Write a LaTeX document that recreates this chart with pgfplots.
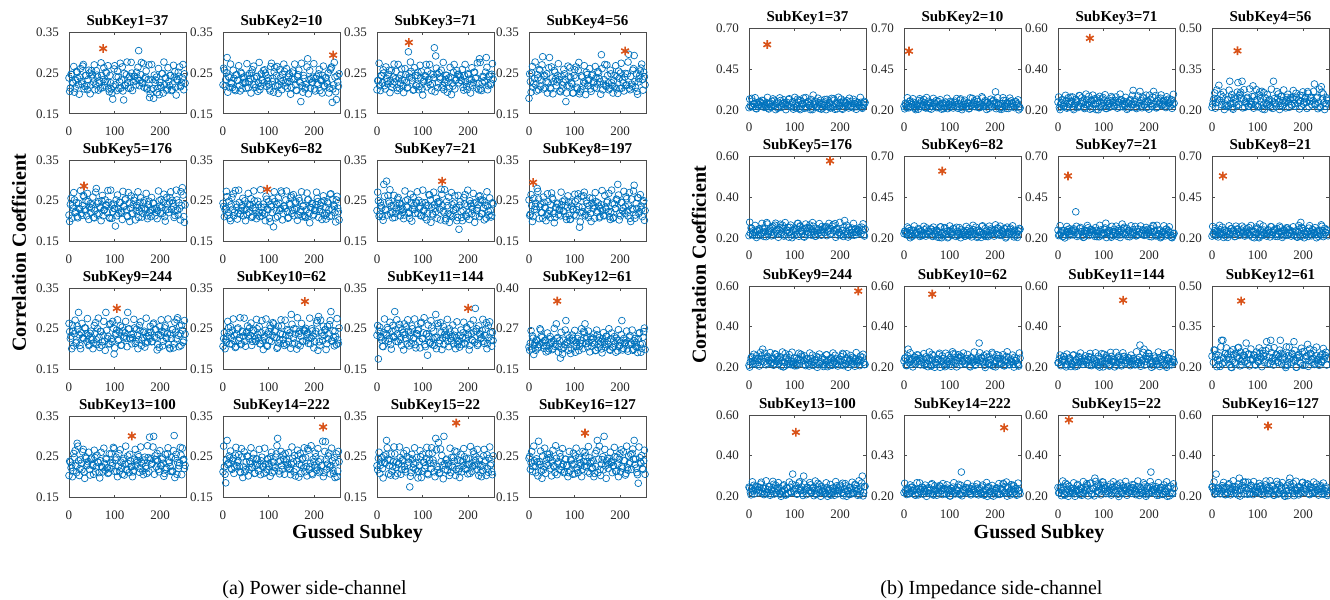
\documentclass[border=0pt]{standalone}
\usepackage{fontspec}
\setmainfont{Liberation Serif}
\usepackage{pgfplots}
\usepackage{pgfplotstable}
\pgfplotsset{compat=1.18}
\definecolor{mblue}{RGB}{0,114,189}
\definecolor{mred}{RGB}{217,83,25}

% correlation values in thousandths (0.238 -> 238)
\pgfplotstableread{
x p1 p2 p3 p4 p5 p6 p7 p8 p9 p10 p11 p12 p13 p14 p15 p16
0 238 221 209 188 215 244 226 252 263 207 234 219 204 213 228 246
3 213 257 232 229 241 211 250 217 226 240 176 231 237 225 246 219
6 246 234 219 250 207 232 217 238 201 223 254 213 229 186 209 263
9 225 288 244 215 232 260 238 211 244 231 228 246 215 290 237 226
12 203 242 226 237 252 221 211 229 238 252 207 225 248 235 221 240
15 232 214 250 221 223 207 290 244 215 213 240 209 228 247 252 211
18 252 226 211 246 211 240 229 280 257 229 221 238 283 221 234 237
21 221 215 237 209 244 229 298 254 290 246 234 219 240 242 290 288
24 240 237 223 257 229 213 263 235 209 221 248 275 221 209 244 231
27 229 207 257 234 219 275 244 221 240 204 226 252 234 254 228 215
30 267 246 231 290 238 234 218 207 228 237 211 234 262 228 205 252
33 211 232 215 242 260 219 221 246 225 252 244 215 213 240 215 226
36 244 219 240 213 225 246 238 232 252 228 231 240 250 226 238 209
39 219 252 228 248 213 226 209 215 219 211 292 223 228 211 257 244
42 234 211 254 226 248 238 232 248 234 244 219 207 238 250 223 229
45 250 240 207 288 234 213 254 226 211 232 237 244 219 225 209 257
48 221 226 237 211 221 250 226 240 244 219 252 229 244 213 234 221
51 246 213 225 238 240 229 213 257 228 240 223 211 231 237 248 240
54 228 244 260 229 209 242 240 219 215 257 209 238 207 252 219 228
57 209 229 219 252 226 221 229 209 238 226 240 221 248 219 240 211
60 256 237 232 219 280 238 215 234 223 234 262 290 225 234 226 246
63 240 250 246 244 244 209 250 244 250 209 226 248 237 223 213 234
66 226 221 213 234 219 232 234 228 229 246 213 219 211 246 250 219
69 213 238 302 204 232 250 221 213 244 231 244 185 240 209 237 250
72 244 215 240 211 250 226 207 240 209 219 232 213 226 228 176 226
75 234 242 254 228 213 215 246 225 234 250 215 240 213 244 211 232
78 219 226 231 248 228 240 229 252 219 228 250 226 234 215 244 213
81 252 209 209 180 240 211 238 211 290 213 228 300 246 231 232 244
84 228 248 244 219 221 234 219 234 226 240 211 234 223 240 219 228
87 211 232 223 242 246 221 244 246 213 221 238 209 211 226 248 211
90 244 226 252 263 207 234 219 204 213 228 246 238 221 209 198 215
93 211 250 217 226 240 201 231 237 225 246 219 213 257 232 229 241
96 186 217 238 201 223 254 213 229 268 209 263 246 234 219 250 207
99 260 238 211 244 231 228 246 215 188 237 226 225 270 244 215 232
102 221 211 229 238 188 207 225 248 235 221 240 203 242 226 237 252
105 207 266 244 215 213 240 209 228 247 252 211 232 214 250 221 223
108 240 229 271 257 229 221 238 267 221 234 237 252 226 211 246 211
111 229 203 254 199 246 186 219 185 242 262 185 221 215 237 209 244
114 213 263 235 209 221 248 265 221 209 244 231 240 237 223 257 229
117 265 244 221 240 204 226 252 234 254 228 215 229 207 257 234 219
120 184 218 207 228 237 211 234 262 228 205 252 267 246 295 272 238
123 219 221 246 225 252 244 215 213 240 215 226 290 232 215 242 260
126 246 238 312 252 228 231 240 250 226 238 209 244 219 240 213 225
129 226 209 292 219 211 269 223 228 290 257 285 219 252 228 295 213
132 238 232 248 234 244 219 207 238 250 223 229 234 211 254 226 248
135 213 254 226 211 232 237 244 219 225 209 257 250 240 207 285 234
138 250 226 240 244 219 252 229 244 213 234 221 221 226 237 211 221
141 229 213 257 228 240 223 278 231 237 248 240 246 213 225 238 240
144 242 240 219 215 257 209 238 207 252 219 228 228 244 260 229 209
147 221 229 209 238 226 240 221 248 219 240 211 209 229 219 300 226
150 238 215 234 223 234 262 201 225 234 285 246 256 237 232 219 290
153 305 250 244 250 209 226 248 237 223 213 234 240 250 246 244 244
156 232 234 228 229 246 213 219 211 246 250 219 226 221 213 234 219
159 276 221 213 295 231 244 197 240 209 237 250 213 238 203 204 232
162 226 207 240 209 219 232 213 226 228 200 226 244 215 240 211 250
165 215 246 225 234 250 215 240 213 244 211 232 234 242 254 228 300
168 240 229 252 219 228 250 226 234 215 244 213 219 226 231 248 228
171 211 180 211 270 213 228 262 246 231 232 244 252 209 209 264 240
174 234 219 234 226 240 211 234 223 240 219 228 228 248 244 219 221
177 190 244 246 213 221 238 209 211 226 248 211 211 298 223 242 246
180 209 211 226 248 211 211 180 223 242 246 221 244 246 213 221 238
183 234 223 240 219 228 228 248 244 219 221 234 219 234 226 240 211
186 188 285 231 232 244 252 209 209 264 240 211 238 300 270 213 228
189 226 234 215 244 213 219 226 231 248 228 240 229 252 219 228 250
192 240 213 244 211 232 234 242 254 228 213 215 246 225 234 250 215
195 213 226 228 200 226 244 215 290 211 250 226 207 240 209 219 232
198 197 240 209 237 250 213 238 203 204 232 250 221 213 244 231 244
201 219 211 246 250 219 226 221 213 234 219 232 234 228 229 246 213
204 248 237 223 213 234 240 250 246 244 244 209 300 244 250 209 226
207 201 225 234 226 246 256 237 232 219 270 238 215 234 223 234 262
210 221 248 219 240 211 209 229 219 252 280 221 229 209 238 226 240
213 238 207 252 219 228 228 244 260 229 209 242 240 219 215 257 209
216 211 231 237 248 240 246 213 225 238 240 300 213 257 228 240 223
219 229 244 213 296 221 221 226 237 211 221 250 226 240 288 219 252
222 244 219 225 209 257 250 240 207 201 234 213 254 226 211 232 237
225 207 238 285 223 229 234 211 254 226 248 238 232 248 287 244 219
228 223 228 211 257 244 219 252 228 248 213 226 209 215 219 211 269
231 240 250 226 293 209 244 219 288 213 225 246 238 302 252 228 290
234 215 213 240 215 226 211 232 215 242 260 219 221 246 225 252 244
237 234 262 228 205 252 267 246 231 272 292 234 218 207 228 237 211
240 252 178 288 228 215 229 207 257 234 219 265 244 221 240 204 185
243 265 221 209 244 231 240 237 223 257 229 213 263 235 209 221 248
246 219 240 242 262 272 221 215 237 209 244 229 203 254 199 246 234
249 238 185 221 234 282 252 226 211 246 211 240 229 271 257 229 221
252 209 228 247 252 211 232 214 250 221 223 207 266 244 215 213 240
255 225 248 235 221 240 203 242 226 237 252 221 211 229 238 252 207
}\powtab

\pgfplotstableread{
x p1 p2 p3 p4 p5 p6 p7 p8 p9 p10 p11 p12 p13 p14 p15 p16
1.5 205 262 231 248 199 236 271 214 243 226 258 209 239 276 218 251
4.5 247 218 274 203 256 228 212 265 232 201 244 269 223 207 261 235
7.5 228 251 207 266 238 273 245 199 259 217 231 253 201 242 229 214
10.5 266 203 243 225 270 214 233 256 208 268 222 196 258 231 248 276
13.5 213 239 258 277 221 249 202 236 271 241 206 233 265 252 198 227
16.5 254 272 219 206 245 201 261 228 217 255 274 242 211 264 236 245
19.5 236 224 265 238 208 258 227 273 248 212 237 216 276 219 255 203
22.5 198 257 229 259 231 267 215 206 235 274 253 227 204 246 272 238
25.5 261 210 247 217 275 222 249 242 201 233 219 271 243 225 208 264
28.5 223 245 202 270 214 241 277 221 263 206 266 248 218 273 241 197
31.5 271 232 256 211 263 205 238 259 227 249 200 224 268 236 257 218
34.5 217 268 223 244 229 276 208 234 252 221 258 239 197 255 226 271
37.5 244 206 272 229 250 217 263 201 238 277 229 204 246 213 274 232
40.5 209 249 236 201 268 233 219 267 275 213 247 262 232 270 203 256
43.5 257 227 214 263 204 256 244 218 209 242 272 214 261 199 237 247
46.5 199 236 271 214 243 226 258 209 239 276 218 251 205 262 231 248
49.5 256 228 212 265 232 201 244 269 223 207 261 235 247 218 274 203
52.5 238 273 245 199 259 217 231 253 201 242 229 214 228 251 207 266
55.5 270 214 233 256 208 268 222 196 258 231 248 276 266 203 243 225
58.5 221 249 202 236 271 241 206 233 265 252 198 227 213 239 258 277
61.5 245 201 261 228 217 255 274 242 211 264 236 245 254 272 219 206
64.5 208 258 227 273 248 212 237 216 276 219 255 203 236 224 265 238
67.5 231 267 215 206 235 274 253 227 204 246 272 238 198 257 229 259
70.5 275 222 249 242 201 233 219 271 243 225 208 264 261 210 247 217
73.5 214 241 277 221 263 206 266 248 218 273 241 197 223 245 202 270
76.5 263 205 238 259 227 249 200 224 268 236 257 218 271 232 256 211
79.5 229 276 208 234 252 221 258 239 197 255 226 271 217 268 223 244
82.5 250 217 263 201 238 277 229 204 246 213 274 232 244 206 272 229
85.5 268 233 219 267 275 213 247 262 232 270 203 256 209 249 236 201
88.5 204 256 244 218 209 242 272 214 261 199 237 247 257 227 214 263
91.5 226 258 209 239 276 218 251 205 262 231 248 199 236 271 214 243
94.5 201 244 269 223 207 261 235 247 218 274 203 256 228 212 265 232
97.5 217 231 253 201 242 229 214 228 251 207 266 238 273 245 199 259
100.5 268 222 196 258 231 248 276 266 203 243 225 270 214 233 256 208
103.5 241 206 233 265 252 198 227 213 239 258 277 221 249 202 236 271
106.5 255 274 242 211 264 236 245 254 272 219 206 245 201 261 228 217
109.5 212 237 216 276 219 255 203 236 224 265 238 208 258 227 273 248
112.5 274 253 227 204 246 272 238 198 257 229 259 231 267 215 206 235
115.5 233 219 271 243 225 208 264 261 210 247 217 275 222 249 242 201
118.5 206 266 248 218 273 241 197 223 245 202 270 214 241 277 221 263
121.5 249 200 224 268 236 257 218 271 232 256 211 263 205 238 259 227
124.5 221 258 239 197 255 226 271 217 268 223 244 229 276 208 234 252
127.5 277 229 204 246 213 274 232 244 206 272 229 250 217 263 201 238
130.5 213 247 262 232 270 203 256 209 249 236 201 268 233 219 267 275
133.5 242 272 214 261 199 237 247 257 227 214 263 204 256 244 218 209
136.5 276 218 251 205 262 231 248 199 236 271 214 243 226 258 209 239
139.5 207 261 235 247 218 274 203 256 228 212 265 232 201 244 269 223
142.5 242 229 214 228 251 207 266 238 273 245 199 259 217 231 253 201
145.5 231 248 276 266 203 243 225 270 214 233 256 208 268 222 196 258
148.5 252 198 227 213 239 258 277 221 249 202 236 271 241 206 233 265
151.5 264 236 245 254 272 219 206 245 201 261 228 217 255 274 242 211
154.5 219 255 203 236 224 265 238 208 258 227 273 248 212 237 216 276
157.5 246 272 238 198 257 229 259 231 267 215 206 235 274 253 227 204
160.5 225 208 264 261 210 247 217 275 222 249 242 201 233 219 271 243
163.5 273 241 197 223 245 202 270 214 241 277 221 263 206 266 248 218
166.5 236 257 218 271 232 256 211 263 205 238 259 227 249 200 224 268
169.5 255 226 271 217 268 223 244 229 276 208 234 252 221 258 239 197
172.5 213 274 232 244 206 272 229 250 217 263 201 238 277 229 204 246
175.5 270 203 256 209 249 236 201 268 233 219 267 275 213 247 262 232
178.5 199 237 247 257 227 214 263 204 256 244 218 209 242 272 214 261
181.5 271 214 243 226 258 209 239 276 218 251 205 262 231 248 199 236
184.5 212 265 232 201 244 269 223 207 261 235 247 218 274 203 256 228
187.5 245 199 259 217 231 253 201 242 229 214 228 251 207 266 238 273
190.5 233 256 208 268 222 196 258 231 248 276 266 203 243 225 270 214
193.5 202 236 271 241 206 233 265 252 198 227 213 239 258 277 221 249
196.5 261 228 217 255 274 242 211 264 236 245 254 272 219 206 245 201
199.5 227 273 248 212 237 216 276 219 255 203 236 224 265 238 208 258
202.5 215 206 235 274 253 227 204 246 272 238 198 257 229 259 231 267
205.5 249 242 201 233 219 271 243 225 208 264 261 210 247 217 275 222
208.5 277 221 263 206 266 248 218 273 241 197 223 245 202 270 214 241
211.5 238 259 227 249 200 224 268 236 257 218 271 232 256 211 263 205
214.5 208 234 252 221 258 239 197 255 226 271 217 268 223 244 229 276
217.5 263 201 238 277 229 204 246 213 274 232 244 206 272 229 250 217
220.5 219 267 275 213 247 262 232 270 203 256 209 249 236 201 268 233
223.5 244 218 209 242 272 214 261 199 237 247 257 227 214 263 204 256
226.5 209 239 276 218 251 205 262 231 248 199 236 271 214 243 226 258
229.5 269 223 207 261 235 247 218 274 203 256 228 212 265 232 201 244
232.5 253 201 242 229 214 228 251 207 266 238 273 245 199 259 217 231
235.5 196 258 231 248 276 266 203 243 225 270 214 233 256 208 268 222
238.5 233 265 252 198 227 213 239 258 277 221 249 202 236 271 241 206
241.5 242 211 264 236 245 254 272 219 206 245 201 261 228 217 255 274
244.5 216 276 219 255 203 236 224 265 238 208 258 227 273 248 212 237
247.5 227 204 246 272 238 198 257 229 259 231 267 215 206 235 274 253
250.5 271 243 225 208 264 261 210 247 217 275 222 249 242 201 233 219
253.5 248 218 273 241 197 223 245 202 270 214 241 277 221 263 206 266
}\powtabB

\pgfplotstableread{
x z1 z2 z3 z4 z5 z6 z7 z8 z9 z10 z11 z12 z13 z14 z15 z16
0 213 221 238 209 211 226 248 211 211 232 223 242 246 221 244 246
3 226 240 211 234 223 240 219 228 228 248 244 219 221 234 219 234
6 270 213 228 262 246 231 232 244 252 209 209 264 240 211 238 211
9 219 228 250 226 234 215 244 213 219 290 231 248 228 240 229 310
12 234 250 215 240 213 244 211 232 234 242 254 228 213 215 246 225
15 209 219 232 290 226 228 200 226 244 215 240 211 250 226 207 240
18 244 231 244 197 240 209 237 250 213 238 203 204 232 250 221 213
21 229 246 213 219 211 246 250 219 226 221 213 300 219 232 234 228
24 250 209 226 248 237 223 213 234 240 250 246 300 244 209 250 244
27 223 234 262 201 225 234 226 246 256 237 232 219 270 238 215 234
30 238 226 240 221 248 219 240 211 290 229 219 252 226 221 229 209
33 215 257 209 238 207 252 219 228 228 244 260 229 209 242 240 219
36 228 240 223 211 231 237 248 240 246 213 225 238 240 229 213 257
39 244 219 252 305 275 213 360 221 221 226 237 211 221 250 226 240
42 211 232 237 244 219 225 209 257 250 240 207 201 234 213 254 226
45 234 244 219 207 238 250 223 229 234 211 254 226 248 238 232 248
48 219 211 269 223 228 211 257 244 219 252 228 248 213 226 209 215
51 252 228 231 240 250 226 238 209 244 219 240 213 225 246 238 232
54 225 252 244 215 213 240 215 226 211 232 215 242 260 219 221 246
57 228 237 211 300 262 228 205 252 267 246 231 272 238 234 218 207
60 240 204 226 252 234 254 228 215 229 207 257 234 219 265 244 290
63 209 221 248 265 221 209 244 231 240 237 223 257 229 213 263 235
66 199 246 234 305 240 242 262 272 221 215 237 209 244 229 203 254
69 257 229 221 238 267 221 234 237 252 226 211 246 211 240 229 271
72 215 213 240 209 228 247 252 211 232 214 250 221 223 207 266 244
75 238 252 207 225 248 235 221 240 203 242 226 290 252 221 211 229
78 244 231 228 246 215 203 237 226 225 270 244 215 232 260 238 211
81 201 223 254 213 229 268 209 263 246 234 219 250 207 232 290 238
84 226 240 201 231 237 225 246 219 213 257 232 229 241 211 250 217
87 263 207 234 219 204 213 228 246 238 221 209 198 215 244 226 252
90 198 215 244 288 252 263 207 234 219 204 213 228 246 238 221 209
93 229 241 211 250 217 226 240 201 231 237 225 246 219 213 257 232
96 250 207 232 217 238 201 223 254 213 229 268 209 310 246 234 219
99 215 232 260 238 211 244 231 228 246 215 203 237 226 225 270 244
102 237 252 221 211 229 238 252 207 225 248 235 221 240 203 242 226
105 221 223 207 266 244 215 290 285 209 228 247 252 211 232 214 250
108 246 211 240 229 271 257 229 221 238 267 221 234 237 252 226 211
111 209 244 229 203 254 199 246 234 219 240 242 262 272 221 215 237
114 257 229 213 263 235 209 221 248 265 221 209 244 231 240 237 223
117 234 219 265 244 221 240 204 226 252 234 254 228 215 229 207 257
120 272 238 234 218 207 228 237 211 234 262 228 295 300 267 246 231
123 242 260 219 221 246 225 252 244 215 213 240 215 226 211 232 215
126 213 225 246 238 232 252 228 231 240 250 226 238 209 335 219 240
129 248 213 226 209 215 219 211 269 223 228 211 300 244 219 252 228
132 226 248 238 232 248 234 244 219 207 238 250 223 229 234 211 254
135 201 234 213 305 226 211 232 237 244 219 225 209 257 250 240 207
138 211 221 250 226 240 244 219 252 229 244 213 234 221 221 226 237
141 290 240 229 213 257 228 285 223 211 231 237 248 240 246 213 225
144 229 209 242 240 219 215 257 209 238 207 252 219 228 228 244 260
147 252 226 221 229 209 238 226 240 221 248 219 240 211 209 229 219
150 219 270 238 215 234 223 234 262 201 225 234 300 246 256 237 232
153 244 244 209 250 244 250 209 226 248 237 223 213 234 240 250 246
156 234 219 232 234 228 229 246 213 219 211 246 250 219 226 221 213
159 204 232 250 221 213 244 231 244 197 240 209 237 250 213 238 203
162 211 250 226 207 240 209 219 232 213 226 228 200 226 244 215 240
165 228 213 295 246 225 234 250 215 240 320 244 211 232 234 242 254
168 248 228 240 229 252 219 228 250 226 234 215 244 213 219 226 231
171 264 280 211 238 211 270 213 228 262 246 231 232 244 252 209 290
174 219 221 234 219 234 226 240 211 234 223 240 219 228 228 248 244
177 242 246 221 244 246 213 221 238 209 211 226 248 211 211 232 223
180 213 228 290 238 221 209 198 215 244 226 310 295 207 234 219 204
183 225 246 219 213 257 232 229 241 211 250 217 226 240 201 231 237
186 268 209 263 246 234 219 250 207 232 217 238 201 223 254 213 229
189 203 237 226 225 270 244 215 232 260 238 290 244 231 228 246 215
192 235 221 240 203 242 226 237 252 221 211 229 238 252 207 225 248
195 247 252 211 232 214 250 221 295 207 266 244 215 213 240 209 228
198 221 234 237 252 226 211 246 211 240 229 271 257 229 221 238 267
201 242 310 272 221 215 280 209 244 229 203 254 199 246 234 219 240
204 209 244 231 240 237 223 257 229 213 263 235 209 221 248 320 221
207 254 228 215 229 207 257 234 219 265 244 221 240 204 226 252 234
210 228 205 290 267 285 231 272 238 234 218 207 285 237 211 234 262
213 240 215 226 211 232 215 242 260 219 221 246 225 252 244 215 213
216 226 238 209 244 219 240 213 225 246 238 232 252 228 231 240 250
219 211 257 244 219 252 228 248 213 226 209 215 219 211 269 223 228
222 250 223 229 234 211 254 226 248 238 232 248 234 244 219 207 238
225 225 209 257 295 240 207 201 234 213 254 226 211 232 280 244 219
228 213 234 221 221 226 237 211 221 250 226 240 244 219 252 229 244
231 237 248 240 246 213 225 238 240 229 213 257 228 240 223 211 231
234 252 219 228 228 244 260 229 209 242 240 219 215 257 209 238 207
237 219 240 211 209 229 219 252 226 221 229 209 238 226 240 221 248
240 234 226 246 285 237 232 219 280 238 215 234 223 234 262 201 225
243 223 213 234 240 250 246 244 244 209 250 244 250 209 226 248 237
246 246 250 219 226 221 213 234 219 232 234 228 229 246 213 219 211
249 209 237 250 213 238 203 204 232 250 221 213 244 300 244 197 240
252 228 200 226 244 215 240 211 250 226 207 240 209 219 232 213 226
255 244 211 232 234 242 254 228 213 215 246 225 234 250 215 240 213
}\imptab

\pgfplotstableread{
x z1 z2 z3 z4 z5 z6 z7 z8 z9 z10 z11 z12 z13 z14 z15 z16
1.5 266 206 263 221 277 241 214 270 202 245 223 197 241 273 218 248
4.5 219 233 201 242 249 222 275 217 247 210 261 264 208 225 243 271
7.5 253 274 235 206 215 267 231 259 229 257 198 238 272 246 204 227
10.5 237 212 248 273 227 258 208 238 265 224 236 203 255 219 276 216
13.5 274 255 217 228 261 201 245 206 219 272 254 245 236 264 211 242
16.5 206 241 271 236 202 249 221 277 258 239 213 227 198 252 265 233
19.5 222 268 208 256 233 214 270 225 243 203 266 276 248 231 258 196
22.5 231 217 259 199 245 273 238 266 207 251 228 214 229 242 201 253
25.5 244 201 232 265 212 228 256 203 274 218 247 235 261 207 223 269
28.5 258 226 243 214 271 236 199 248 231 262 205 251 218 276 239 209
31.5 256 204 263 214 227 257 247 237 199 261 214 272 242 209 218 244
34.5 233 268 201 236 249 209 256 203 270 232 262 247 213 275 267 219
37.5 217 250 229 272 206 244 232 274 213 246 204 229 277 238 201 263
40.5 276 229 244 223 268 217 271 226 255 197 239 258 221 252 234 208
43.5 205 263 211 256 232 271 218 257 236 268 224 200 249 227 259 238
46.5 241 214 270 202 245 223 197 241 273 218 248 266 206 263 221 277
49.5 222 275 217 247 210 261 264 208 225 243 271 219 233 201 242 249
52.5 267 231 259 229 257 198 238 272 246 204 227 253 274 235 206 215
55.5 258 208 238 265 224 236 203 255 219 276 216 237 212 248 273 227
58.5 201 245 206 219 272 254 245 236 264 211 242 274 255 217 228 261
61.5 249 221 277 258 239 213 227 198 252 265 233 206 241 271 236 202
64.5 214 270 225 243 203 266 276 248 231 258 196 222 268 208 256 233
67.5 273 238 266 207 251 228 214 229 242 201 253 231 217 259 199 245
70.5 228 256 203 274 218 247 235 261 207 223 269 244 201 232 265 212
73.5 236 199 248 231 262 205 251 218 276 239 209 258 226 243 214 271
76.5 261 214 272 242 209 218 244 256 204 263 214 227 257 247 237 199
79.5 232 262 247 213 275 267 219 233 268 201 236 249 209 256 203 270
82.5 246 204 229 277 238 201 263 217 250 229 272 206 244 232 274 213
85.5 197 239 258 221 252 234 208 276 229 244 223 268 217 271 226 255
88.5 268 224 200 249 227 259 238 205 263 211 256 232 271 218 257 236
91.5 218 248 266 206 263 221 277 241 214 270 202 245 223 197 241 273
94.5 243 271 219 233 201 242 249 222 275 217 247 210 261 264 208 225
97.5 204 227 253 274 235 206 215 267 231 259 229 257 198 238 272 246
100.5 276 216 237 212 248 273 227 258 208 238 265 224 236 203 255 219
103.5 211 242 274 255 217 228 261 201 245 206 219 272 254 245 236 264
106.5 265 233 206 241 271 236 202 249 221 277 258 239 213 227 198 252
109.5 258 196 222 268 208 256 233 214 270 225 243 203 266 276 248 231
112.5 201 253 231 217 259 199 245 273 238 266 207 251 228 214 229 242
115.5 223 269 244 201 232 265 212 228 256 203 274 218 247 235 261 207
118.5 239 209 258 226 243 214 271 236 199 248 231 262 205 251 218 276
121.5 209 218 244 256 204 263 214 227 257 247 237 199 261 214 272 242
124.5 275 267 219 233 268 201 236 249 209 256 203 270 232 262 247 213
127.5 238 201 263 217 250 229 272 206 244 232 274 213 246 204 229 277
130.5 252 234 208 276 229 244 223 268 217 271 226 255 197 239 258 221
133.5 227 259 238 205 263 211 256 232 271 218 257 236 268 224 200 249
136.5 263 221 277 241 214 270 202 245 223 197 241 273 218 248 266 206
139.5 201 242 249 222 275 217 247 210 261 264 208 225 243 271 219 233
142.5 235 206 215 267 231 259 229 257 198 238 272 246 204 227 253 274
145.5 248 273 227 258 208 238 265 224 236 203 255 219 276 216 237 212
148.5 217 228 261 201 245 206 219 272 254 245 236 264 211 242 274 255
151.5 271 236 202 249 221 277 258 239 213 227 198 252 265 233 206 241
154.5 208 256 233 214 270 225 243 203 266 276 248 231 258 196 222 268
157.5 259 199 245 273 238 266 207 251 228 214 229 242 201 253 231 217
160.5 232 265 212 228 256 203 274 218 247 235 261 207 223 269 244 201
163.5 243 214 271 236 199 248 231 262 205 251 218 276 239 209 258 226
166.5 263 214 227 257 247 237 199 261 214 272 242 209 218 244 256 204
169.5 201 236 249 209 256 203 270 232 262 247 213 275 267 219 233 268
172.5 229 272 206 244 232 274 213 246 204 229 277 238 201 263 217 250
175.5 244 223 268 217 271 226 255 197 239 258 221 252 234 208 276 229
178.5 211 256 232 271 218 257 236 268 224 200 249 227 259 238 205 263
181.5 270 202 245 223 197 241 273 218 248 266 206 263 221 277 241 214
184.5 217 247 210 261 264 208 225 243 271 219 233 201 242 249 222 275
187.5 259 229 257 198 238 272 246 204 227 253 274 235 206 215 267 231
190.5 238 265 224 236 203 255 219 276 216 237 212 248 273 227 258 208
193.5 206 219 272 254 245 236 264 211 242 274 255 217 228 261 201 245
196.5 277 258 239 213 227 198 252 265 233 206 241 271 236 202 249 221
199.5 225 243 203 266 276 248 231 258 196 222 268 208 256 233 214 270
202.5 266 207 251 228 214 229 242 201 253 231 217 259 199 245 273 238
205.5 203 274 218 247 235 261 207 223 269 244 201 232 265 212 228 256
208.5 248 231 262 205 251 218 276 239 209 258 226 243 214 271 236 199
211.5 247 237 199 261 214 272 242 209 218 244 256 204 263 214 227 257
214.5 256 203 270 232 262 247 213 275 267 219 233 268 201 236 249 209
217.5 232 274 213 246 204 229 277 238 201 263 217 250 229 272 206 244
220.5 271 226 255 197 239 258 221 252 234 208 276 229 244 223 268 217
223.5 218 257 236 268 224 200 249 227 259 238 205 263 211 256 232 271
226.5 197 241 273 218 248 266 206 263 221 277 241 214 270 202 245 223
229.5 264 208 225 243 271 219 233 201 242 249 222 275 217 247 210 261
232.5 238 272 246 204 227 253 274 235 206 215 267 231 259 229 257 198
235.5 203 255 219 276 216 237 212 248 273 227 258 208 238 265 224 236
238.5 245 236 264 211 242 274 255 217 228 261 201 245 206 219 272 254
241.5 227 198 252 265 233 206 241 271 236 202 249 221 277 258 239 213
244.5 276 248 231 258 196 222 268 208 256 233 214 270 225 243 203 266
247.5 214 229 242 201 253 231 217 259 199 245 273 238 266 207 251 228
250.5 235 261 207 223 269 244 201 232 265 212 228 256 203 274 218 247
253.5 251 218 276 239 209 258 226 243 214 271 236 199 248 231 262 205
}\imptabB

\pgfplotsset{
  sub/.style={anchor=north west, scale only axis, width=58.5pt, height=40.75pt,
    xmin=0, xmax=257, xtick={0,100,200}, xticklabels={0,100,200},
    tick align=inside, major tick length=1.4pt,
    axis line style={black!70, line width=0.45pt},
    tick style={black!70, line width=0.4pt},
    tick label style={font=\fontsize{6.5}{7}\selectfont, text=black!85},
    xticklabel style={yshift=-3pt},
    yticklabel style={xshift=-1.5pt},
    every axis title/.style={at={(0.5,1)}, anchor=base, yshift=3.2pt, inner sep=0pt,
      font=\fontsize{7.5}{9}\selectfont\bfseries}},
  circ/.style={only marks, mark=o, mark size=1.7pt, color=mblue, mark options={line width=0.35pt}},
  astar/.style={only marks, mark=asterisk, mark size=2.2pt, color=mred, mark options={line width=0.8pt}},
  pw/.style={ymin=150,ymax=350,ytick={150,250,350},yticklabels={0.15,0.25,0.35}},
  pwb/.style={ymin=150,ymax=400,ytick={150,275,400},yticklabels={0.15,0.27,0.40}},
  iA/.style={ymin=200,ymax=700,ytick={200,450,700},yticklabels={0.20,0.45,0.70}},
  iB/.style={ymin=200,ymax=600,ytick={200,400,600},yticklabels={0.20,0.40,0.60}},
  iC/.style={ymin=200,ymax=500,ytick={200,350,500},yticklabels={0.20,0.35,0.50}},
  iD/.style={ymin=200,ymax=650,ytick={200,425,650},yticklabels={0.20,0.43,0.65}},
}

\newcommand{\sub}[7]{%
  \begin{axis}[sub, at={(#1)}, #2, title={#3}]
    \addplot[circ] table[x=x, y=#4]{#5};
    \addplot[circ] table[x=x, y=#4]{#6};
    \addplot[astar] coordinates {#7};
  \end{axis}}

\begin{document}
\begin{tikzpicture}
\path[use as bounding box] (0,0) rectangle (665pt,300pt);
% ---------- (a) power ----------
\sub{34.5pt,283.85pt}{pw}{SubKey1=37}{p1}{\powtab}{\powtabB}{(75,310)}
\sub{111.5pt,283.85pt}{pw}{SubKey2=10}{p2}{\powtab}{\powtabB}{(242,294)}
\sub{188.5pt,283.85pt}{pw}{SubKey3=71}{p3}{\powtab}{\powtabB}{(70,325)}
\sub{264.5pt,283.85pt}{pw}{SubKey4=56}{p4}{\powtab}{\powtabB}{(211,304)}
\sub{34.5pt,220pt}{pw}{SubKey5=176}{p5}{\powtab}{\powtabB}{(33,286)}
\sub{111.5pt,220pt}{pw}{SubKey6=82}{p6}{\powtab}{\powtabB}{(97,278)}
\sub{188.5pt,220pt}{pw}{SubKey7=21}{p7}{\powtab}{\powtabB}{(143,298)}
\sub{264.5pt,220pt}{pw}{SubKey8=197}{p8}{\powtab}{\powtabB}{(9,295)}
\sub{34.5pt,156pt}{pw}{SubKey9=244}{p9}{\powtab}{\powtabB}{(105,300)}
\sub{111.5pt,156pt}{pw}{SubKey10=62}{p10}{\powtab}{\powtabB}{(180,317)}
\sub{188.5pt,156pt}{pw}{SubKey11=144}{p11}{\powtab}{\powtabB}{(200,300)}
\sub{264.5pt,156pt}{pwb}{SubKey12=61}{p12}{\powtab}{\powtabB}{(62,360)}
\sub{34.5pt,92pt}{pw}{SubKey13=100}{p13}{\powtab}{\powtabB}{(138,301)}
\sub{111.5pt,92pt}{pw}{SubKey14=222}{p14}{\powtab}{\powtabB}{(220,323)}
\sub{188.5pt,92pt}{pw}{SubKey15=22}{p15}{\powtab}{\powtabB}{(174,333)}
\sub{264.5pt,92pt}{pw}{SubKey16=127}{p16}{\powtab}{\powtabB}{(123,308)}
% ---------- (b) impedance ----------
\sub{374.5pt,285.85pt}{iA}{SubKey1=37}{z1}{\imptab}{\imptabB}{(40,600)}
\sub{452pt,285.85pt}{iA}{SubKey2=10}{z2}{\imptab}{\imptabB}{(11,560)}
\sub{529pt,285.85pt}{iB}{SubKey3=71}{z3}{\imptab}{\imptabB}{(70,551)}
\sub{606pt,285.85pt}{iC}{SubKey4=56}{z4}{\imptab}{\imptabB}{(56,417)}
\sub{374.5pt,221.8pt}{iB}{SubKey5=176}{z5}{\imptab}{\imptabB}{(178,578)}
\sub{452pt,221.8pt}{iA}{SubKey6=82}{z6}{\imptab}{\imptabB}{(84,610)}
\sub{529pt,221.8pt}{iA}{SubKey7=21}{z7}{\imptab}{\imptabB}{(22,580)}
\sub{606pt,221.8pt}{iA}{SubKey8=21}{z8}{\imptab}{\imptabB}{(24,580)}
\sub{374.5pt,157pt}{iB}{SubKey9=244}{z9}{\imptab}{\imptabB}{(240,575)}
\sub{452pt,157pt}{iB}{SubKey10=62}{z10}{\imptab}{\imptabB}{(62,560)}
\sub{529pt,157pt}{iB}{SubKey11=144}{z11}{\imptab}{\imptabB}{(143,530)}
\sub{606pt,157pt}{iC}{SubKey12=61}{z12}{\imptab}{\imptabB}{(64,445)}
\sub{374.5pt,92.5pt}{iB}{SubKey13=100}{z13}{\imptab}{\imptabB}{(103,515)}
\sub{452pt,92.5pt}{iD}{SubKey14=222}{z14}{\imptab}{\imptabB}{(220,580)}
\sub{529pt,92.5pt}{iB}{SubKey15=22}{z15}{\imptab}{\imptabB}{(24,576)}
\sub{606pt,92.5pt}{iB}{SubKey16=127}{z16}{\imptab}{\imptabB}{(123,546)}
% ---------- labels ----------
\node[rotate=90, font=\fontsize{10}{12}\selectfont\bfseries] at (9.5pt,173.5pt) {Correlation Coefficient};
\node[rotate=90, font=\fontsize{10}{12}\selectfont\bfseries] at (349.5pt,167.5pt) {Correlation Coefficient};
\node[anchor=base, inner sep=0pt, font=\fontsize{10}{12}\selectfont\bfseries] at (178.75pt,30.5pt) {Gussed Subkey};
\node[anchor=base, inner sep=0pt, font=\fontsize{10}{12}\selectfont\bfseries] at (519.5pt,30.5pt) {Gussed Subkey};
\node[anchor=base west, inner sep=0pt, font=\fontsize{10}{12}\selectfont] at (111pt,2.5pt) {(a) Power side-channel};
\node[anchor=base west, inner sep=0pt, font=\fontsize{10}{12}\selectfont] at (440pt,2.5pt) {(b) Impedance side-channel};
\end{tikzpicture}
\end{document}
